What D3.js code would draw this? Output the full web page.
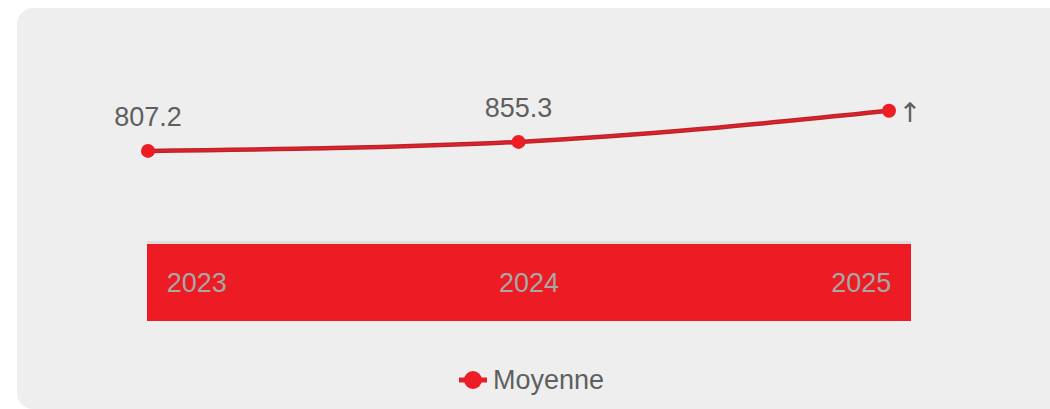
<!DOCTYPE html>
<html>
<head>
<meta charset="utf-8">
<script src="https://cdn.jsdelivr.net/npm/d3@7"></script>
<style>
  body { margin: 0; background: #fff; }
</style>
</head>
<body>
<div id="chart"></div>
<script>
// Data
const years = ["2023", "2024", "2025"];
const moyenne = [807.2, 855.3, 1021];
const valueLabels = ["807.2", "855.3", "↑"];
const seriesName = "Moyenne";

const W = 1050, H = 409;

const svg = d3.select("#chart")
    .append("svg")
    .attr("width", W)
    .attr("height", H)
    .style("font-family", "'Liberation Sans', Arial, sans-serif");

// card background
svg.append("rect")
    .attr("x", 17).attr("y", 8)
    .attr("width", 1060).attr("height", 401)
    .attr("rx", 16)
    .attr("fill", "#eeeeee");

// scales
const x = d3.scalePoint()
    .domain(years)
    .range([148, 889]);

const y = d3.scaleLinear()
    .domain([700, 1100])
    .range([171, 96]);

// x axis band
const band = svg.append("g");
band.append("rect")
    .attr("x", 147).attr("y", 242)
    .attr("width", 764).attr("height", 79)
    .attr("fill", "#ed1c24");
band.append("rect")
    .attr("x", 147).attr("y", 241)
    .attr("width", 764).attr("height", 3)
    .attr("fill", "#dedede");

const xLab = d3.scalePoint()
    .domain(years)
    .range([147, 911])
    .padding(0.15);

band.selectAll(".yr")
    .data(years)
    .enter()
    .append("text")
    .attr("class", "yr")
    .attr("x", d => xLab(d))
    .attr("y", 292)
    .attr("text-anchor", "middle")
    .attr("font-size", 27)
    .attr("fill", "#a7a7a7")
    .text(d => d);

// line
const line = d3.line()
    .x((d, i) => x(years[i]))
    .y(d => y(d))
    .curve(d3.curveMonotoneX);

svg.append("path")
    .datum(moyenne)
    .attr("d", line)
    .attr("fill", "none")
    .attr("stroke", "#b8242a")
    .attr("stroke-width", 4.5);

svg.append("path")
    .datum(moyenne)
    .attr("d", line)
    .attr("fill", "none")
    .attr("stroke", "#e0202a")
    .attr("stroke-width", 2);

svg.selectAll(".pt")
    .data(moyenne)
    .enter()
    .append("circle")
    .attr("class", "pt")
    .attr("cx", (d, i) => x(years[i]))
    .attr("cy", d => y(d))
    .attr("r", 7)
    .attr("fill", "#ee1c25");

// value labels
svg.selectAll(".val")
    .data(moyenne)
    .enter()
    .append("text")
    .attr("class", "val")
    .attr("x", (d, i) => i === 2 ? x(years[i]) + 21 : x(years[i]))
    .attr("y", (d, i) => i === 2 ? y(d) + 11 : y(d) - 25)
    .attr("text-anchor", "middle")
    .attr("font-size", 27)
    .style("font-family", (d, i) => i === 2 ? "'DejaVu Sans'" : null)
    .attr("fill", "#5f5f5f")
    .text((d, i) => valueLabels[i]);

// legend
const lg = svg.append("g").attr("transform", "translate(473,380)");
lg.append("line")
    .attr("x1", -14).attr("x2", 14)
    .attr("stroke", "#e0202a")
    .attr("stroke-width", 5);
lg.append("circle")
    .attr("r", 9)
    .attr("fill", "#ee1c25");
lg.append("text")
    .attr("x", 20)
    .attr("y", 9)
    .attr("font-size", 27)
    .attr("fill", "#5f5f5f")
    .text(seriesName);
</script>
</body>
</html>
